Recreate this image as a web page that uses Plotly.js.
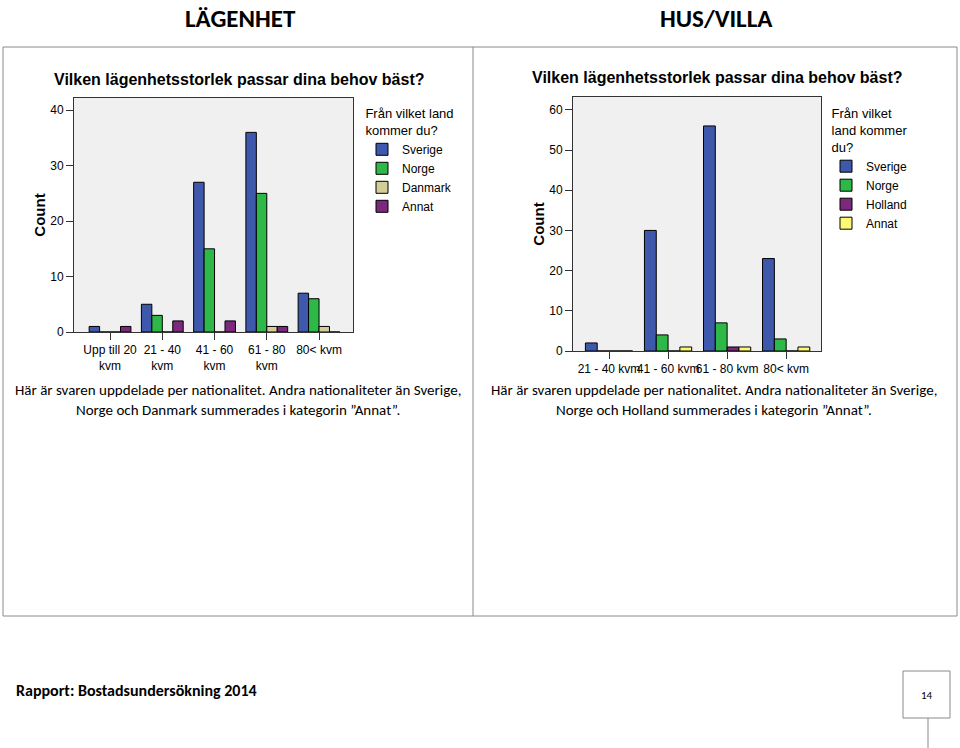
<!DOCTYPE html>
<html>
<head>
<meta charset="utf-8">
<script src="https://cdn.plot.ly/plotly-3.0.1.min.js"></script>
<style>html,body{margin:0;padding:0;background:#fff;}#chart{width:960px;height:748px;}</style>
</head>
<body>
<div id="chart"></div>
<script>
// ---- data ----
const leftCategories = ['Upp till 20<br>kvm', '21 - 40<br>kvm', '41 - 60<br>kvm', '61 - 80<br>kvm', '80< kvm'];
const leftSverige = [1, 5, 27, 36, 7];
const leftNorge = [0, 3, 15, 25, 6];
const leftDanmark = [0, 0, 0, 1, 1];
const leftAnnat = [1, 2, 2, 1, 0];

const rightCategories = ['21 - 40 kvm', '41 - 60 kvm', '61 - 80 kvm', '80< kvm'];
const rightSverige = [2, 30, 56, 23];
const rightNorge = [0, 4, 7, 3];
const rightHolland = [0, 0, 1, 0];
const rightAnnat = [0, 1, 1, 1];

const W = 960, H = 748;
const px = v => v / W;
const py = v => 1 - v / H;

const C = {blue: '#3e58ac', green: '#2eb848', beige: '#d3ce97', purple: '#7c287d', yellow: '#fbf873'};
const barLine = {color: '#000', width: 1};
const ax = 'Liberation Sans, Arial, sans-serif';
const cal = 'Carlito, Lato, sans-serif';

function bar(name, x, y, color, xa, ya, leg) {
  return {type: 'bar', name: name, x: x, y: y, xaxis: xa, yaxis: ya, legend: leg,
    marker: {color: color, line: barLine}, hoverinfo: 'x+y+name'};
}

const data = [
  bar('Sverige', leftCategories, leftSverige, C.blue, 'x', 'y', 'legend'),
  bar('Norge', leftCategories, leftNorge, C.green, 'x', 'y', 'legend'),
  bar('Danmark', leftCategories, leftDanmark, C.beige, 'x', 'y', 'legend'),
  bar('Annat', leftCategories, leftAnnat, C.purple, 'x', 'y', 'legend'),
  bar('Sverige', rightCategories, rightSverige, C.blue, 'x2', 'y2', 'legend2'),
  bar('Norge', rightCategories, rightNorge, C.green, 'x2', 'y2', 'legend2'),
  bar('Holland', rightCategories, rightHolland, C.purple, 'x2', 'y2', 'legend2'),
  bar('Annat', rightCategories, rightAnnat, C.yellow, 'x2', 'y2', 'legend2')
];

const tickFont = {family: ax, size: 12, color: '#000'};
function xAxis(domain, range, anchor) {
  return {domain: domain, range: range, anchor: anchor, type: 'category',
    showline: true, mirror: true, linecolor: '#333', linewidth: 1,
    ticks: 'outside', ticklen: 7, tickcolor: '#333', tickfont: tickFont, tickangle: 0,
    showgrid: false, zeroline: false, fixedrange: true};
}
function yAxis(domain, range, anchor) {
  return {domain: domain, range: range, anchor: anchor, dtick: 10,
    showline: true, mirror: true, linecolor: '#333', linewidth: 1,
    ticks: 'outside', ticklen: 7, tickcolor: '#333', tickfont: tickFont,
    showgrid: false, zeroline: false, fixedrange: true,
    title: {text: 'Count', font: {family: ax, size: 15, weight: 'bold', color: '#000'}, standoff: 0}};
}

function ann(text, x, y, size, opts) {
  return Object.assign({text: text, x: px(x), y: py(y), xref: 'paper', yref: 'paper',
    showarrow: false, xanchor: 'center', yanchor: 'middle',
    font: {family: cal, size: size, color: '#000'}}, opts || {});
}

const lineCol = '#8a8a8a';
const layout = {
  width: W, height: H,
  margin: {l: 0, r: 0, t: 0, b: 0},
  paper_bgcolor: '#fff', plot_bgcolor: '#f0f0f0',
  barmode: 'group', bargap: 0.2, bargroupgap: 0,
  showlegend: true,
  xaxis: xAxis([px(74), px(353)], [-0.69, 4.65], 'y'),
  yaxis: yAxis([py(332), py(98)], [0, 42.2], 'x'),
  xaxis2: xAxis([px(573), px(821)], [-0.61, 3.59], 'y2'),
  yaxis2: yAxis([py(351), py(97)], [0, 63.2], 'x2'),
  legend: {x: px(362), y: py(101), xanchor: 'left', yanchor: 'top',
    bgcolor: 'rgba(0,0,0,0)', borderwidth: 0, itemwidth: 30, tracegroupgap: 0,
    font: {family: ax, size: 12, color: '#000'},
    title: {text: 'Från vilket land<br>kommer du?', side: 'top center', font: {family: ax, size: 13, color: '#000'}}},
  legend2: {x: px(826), y: py(101), xanchor: 'left', yanchor: 'top',
    bgcolor: 'rgba(0,0,0,0)', borderwidth: 0, itemwidth: 30, tracegroupgap: 0,
    font: {family: ax, size: 12, color: '#000'},
    title: {text: 'Från vilket<br>land kommer<br>du?', side: 'top center', font: {family: ax, size: 13, color: '#000'}}},
  shapes: [
    {type: 'rect', xref: 'paper', yref: 'paper', x0: px(3), x1: px(957), y0: py(616), y1: py(47), line: {color: lineCol, width: 1}},
    {type: 'line', xref: 'paper', yref: 'paper', x0: px(473), x1: px(473), y0: py(616), y1: py(47), line: {color: lineCol, width: 1}},
    {type: 'rect', xref: 'paper', yref: 'paper', x0: px(903), x1: px(950), y0: py(718), y1: py(671), line: {color: lineCol, width: 1}},
    {type: 'line', xref: 'paper', yref: 'paper', x0: px(928), x1: px(928), y0: py(748), y1: py(718), line: {color: lineCol, width: 1}}
  ],
  annotations: [
    ann('<b>LÄGENHET</b>', 240, 1, 25, {yanchor: 'top'}),
    ann('<b>HUS/VILLA</b>', 716, 1, 25, {yanchor: 'top'}),
    ann('<b>Vilken lägenhetsstorlek passar dina behov bäst?</b>', 239, 80, 16, {font: {family: ax, size: 16, color: '#000'}}),
    ann('<b>Vilken lägenhetsstorlek passar dina behov bäst?</b>', 717, 78, 16, {font: {family: ax, size: 16, color: '#000'}}),
    ann('Här är svaren uppdelade per nationalitet. Andra nationaliteter än Sverige,', 238, 390, 15),
    ann('Norge och Danmark summerades i kategorin ”Annat”.', 238, 410, 15),
    ann('Här är svaren uppdelade per nationalitet. Andra nationaliteter än Sverige,', 714, 390, 15),
    ann('Norge och Holland summerades i kategorin ”Annat”.', 714, 410, 15),
    ann('<b>Rapport: Bostadsundersökning 2014</b>', 14, 690, 16, {xanchor: 'left'}),
    ann('14', 927, 695, 11)
  ]
};

Plotly.newPlot('chart', data, layout, {displayModeBar: false, staticPlot: true});
</script>
</body>
</html>
